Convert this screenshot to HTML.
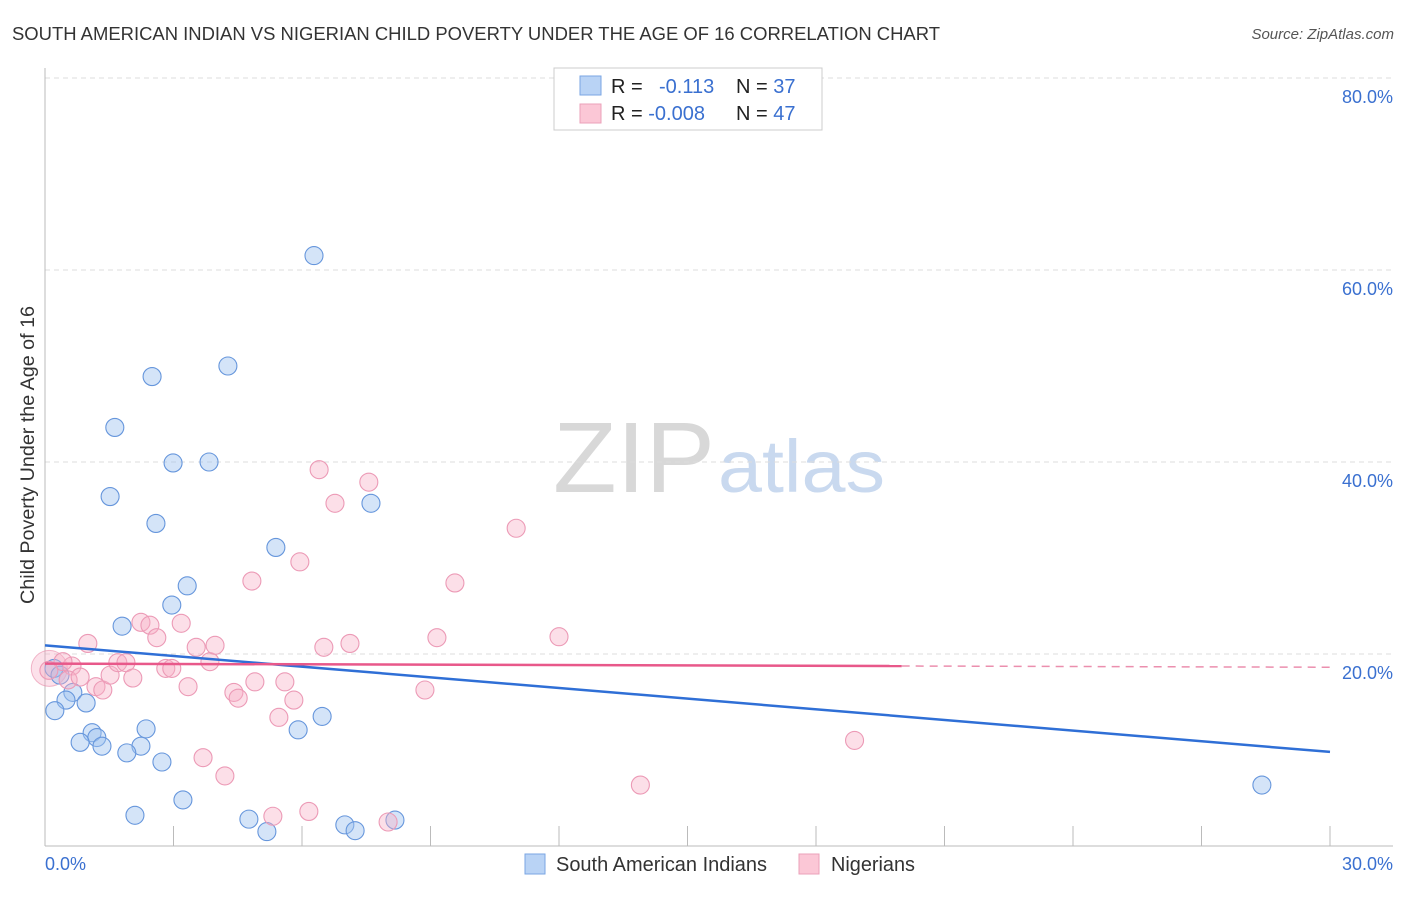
<!DOCTYPE html>
<html><head><meta charset="utf-8"><style>
body{margin:0;background:#fff;font-family:"Liberation Sans",sans-serif;}
svg text{font-family:"Liberation Sans",sans-serif;}
</style></head><body>
<svg width="1406" height="892" viewBox="0 0 1406 892" xmlns="http://www.w3.org/2000/svg">
<text x="12" y="40" font-size="18" fill="#333" textLength="928" lengthAdjust="spacingAndGlyphs">SOUTH AMERICAN INDIAN VS NIGERIAN CHILD POVERTY UNDER THE AGE OF 16 CORRELATION CHART</text>
<text x="1394" y="39" font-size="15" fill="#555" font-style="italic" text-anchor="end">Source: ZipAtlas.com</text>
<g>
<text x="553" y="492" font-size="100" fill="#d8d8d8" font-family="Liberation Serif, serif" textLength="162" lengthAdjust="spacingAndGlyphs">ZIP</text>
<text x="718" y="492" font-size="74" fill="#c9d9ef" textLength="167" lengthAdjust="spacingAndGlyphs">atlas</text>
</g>
<g id="grid"></g>
<g id="axes"></g>
<g id="marks"></g>
<text transform="translate(34,455) rotate(-90)" font-size="19" fill="#333" text-anchor="middle" textLength="298" lengthAdjust="spacingAndGlyphs">Child Poverty Under the Age of 16</text>
<g>
<rect x="554" y="68" width="268" height="62" fill="#fff" stroke="#ccc"/>
<rect x="580" y="76" width="21" height="19" fill="#b9d3f5" stroke="#7aa6e3"/>
<rect x="580" y="104" width="21" height="19" fill="#fbc7d6" stroke="#eba0b9"/>
<text x="611" y="93" font-size="20" fill="#222">R = <tspan x="659" fill="#3a70d0">-0.113</tspan></text>
<text x="736" y="93" font-size="20" fill="#222">N = <tspan fill="#3a70d0">37</tspan></text>
<text x="611" y="120" font-size="20" fill="#222">R = <tspan fill="#3a70d0">-0.008</tspan></text>
<text x="736" y="120" font-size="20" fill="#222">N = <tspan fill="#3a70d0">47</tspan></text>
</g>
<g>
<rect x="525" y="854" width="20" height="20" fill="#b9d3f5" stroke="#7aa6e3"/>
<text x="556" y="871" font-size="20" fill="#333" textLength="211" lengthAdjust="spacingAndGlyphs">South American Indians</text>
<rect x="799" y="854" width="20" height="20" fill="#fbc7d6" stroke="#eba0b9"/>
<text x="831" y="871" font-size="20" fill="#333" textLength="84" lengthAdjust="spacingAndGlyphs">Nigerians</text>
</g>
</svg>
<script>
const yTicks=[20,40,60,80];
const yTickLabels=["20.0%","40.0%","60.0%","80.0%"];
const xTicks=[0,3,6,9,12,15,18,21,24,27,30];
const blueX=[6.28,4.27,2.50,1.63,2.99,3.83,1.52,2.59,7.61,5.39,3.32,2.96,1.80,0.21,0.65,0.49,0.96,0.23,6.47,2.36,5.91,1.10,1.21,0.82,1.33,2.24,1.91,2.73,3.22,2.10,4.76,5.18,7.00,7.24,8.17,28.41,0.35];
const blueY=[61.5,50.0,48.9,43.6,39.9,40.0,36.4,33.6,35.7,31.1,27.1,25.1,22.9,18.5,16.0,15.2,14.9,14.1,13.5,12.2,12.1,11.8,11.3,10.8,10.4,10.4,9.7,8.75,4.8,3.2,2.8,1.5,2.2,1.6,2.7,6.35,17.8];
const pinkX=[1.00,0.63,0.42,0.09,0.54,0.82,1.19,1.35,1.52,1.70,1.89,2.05,2.24,2.45,2.61,2.82,2.96,3.18,3.34,3.53,3.85,3.97,4.41,4.51,4.83,4.90,5.46,5.60,5.81,5.95,6.40,6.51,6.77,7.12,7.56,8.87,9.15,9.57,11.0,12.0,18.9,13.9,3.69,4.20,5.32,6.16,8.01];
const pinkY=[21.1,18.75,19.2,18.3,17.3,17.6,16.6,16.25,17.8,19.1,19.1,17.5,23.3,23.0,21.7,18.5,18.5,23.2,16.6,20.7,19.2,20.9,16.0,15.4,27.6,17.1,13.4,17.1,15.2,29.6,39.2,20.7,35.7,21.1,37.9,16.25,21.7,27.4,33.1,21.8,11.0,6.35,9.2,7.3,3.1,3.6,2.5];
const blueTrend=[[0,20.9],[30,9.8]];
const pinkTrend=[[0,19.0],[20,18.75]];
const pinkTrendDash=[[20,18.75],[30,18.62]];

const X0=45,X1=1330,Y0=846,PX=192/20;
const sx=v=>X0+(v/30)*(X1-X0);
const sy=v=>Y0-v*PX;
const NS="http://www.w3.org/2000/svg";
function mk(tag,attrs,parent){const e=document.createElementNS(NS,tag);for(const k in attrs)e.setAttribute(k,attrs[k]);parent.appendChild(e);return e;}
const grid=document.getElementById('grid'),axes=document.getElementById('axes'),marks=document.getElementById('marks');
yTicks.forEach((t,i)=>{
 const l=mk('line',{x1:X0,x2:1393,y1:sy(t),y2:sy(t),stroke:'#ddd','stroke-dasharray':'5,4'},grid);
 
 
 const tx=mk('text',{x:1393,y:sy(t)+25,'font-size':18,fill:'#3a70d0','text-anchor':'end'},axes);
 tx.textContent=yTickLabels[i];
 
 
});
const ya=mk('line',{x1:X0,x2:X0,y1:68,y2:Y0,stroke:'#bbb'},axes);


const xa=mk('line',{x1:X0,x2:1393,y1:Y0,y2:Y0,stroke:'#bbb'},axes);


xTicks.forEach(t=>{
 const l=mk('line',{x1:sx(t),x2:sx(t),y1:Y0-20,y2:Y0,stroke:'#bbb'},axes);
 
 
});
const xl0=mk('text',{x:45,y:870,'font-size':18,fill:'#3a70d0'},axes);xl0.textContent='0.0%';


const xl1=mk('text',{x:1393,y:870,'font-size':18,fill:'#3a70d0','text-anchor':'end'},axes);xl1.textContent='30.0%';



const big1=mk('circle',{cx:sx(0.1),cy:sy(18.5),r:18,fill:'rgba(247,170,195,0.35)',stroke:'rgba(232,138,168,0.6)'},marks);


blueX.forEach((v,i)=>{
 const c=mk('circle',{cx:sx(v),cy:sy(blueY[i]),r:9,fill:'rgba(160,196,240,0.45)',stroke:'#6696dc','stroke-width':1.1},marks);
 
 
});
pinkX.forEach((v,i)=>{
 const c=mk('circle',{cx:sx(v),cy:sy(pinkY[i]),r:9,fill:'rgba(247,176,198,0.4)',stroke:'#ec9ab6','stroke-width':1.1},marks);
 
 
});
const bt=mk('line',{x1:sx(blueTrend[0][0]),y1:sy(blueTrend[0][1]),x2:sx(blueTrend[1][0]),y2:sy(blueTrend[1][1]),stroke:'#2f6fd6','stroke-width':2.5},marks);


const pt=mk('line',{x1:sx(pinkTrend[0][0]),y1:sy(pinkTrend[0][1]),x2:sx(pinkTrend[1][0]),y2:sy(pinkTrend[1][1]),stroke:'#e8588a','stroke-width':2.5},marks);


const pd=mk('line',{x1:sx(pinkTrendDash[0][0]),y1:sy(pinkTrendDash[0][1]),x2:sx(pinkTrendDash[1][0]),y2:sy(pinkTrendDash[1][1]),stroke:'#eb8fae','stroke-width':1.5,'stroke-dasharray':'8,6'},marks);


</script>
</body></html>
